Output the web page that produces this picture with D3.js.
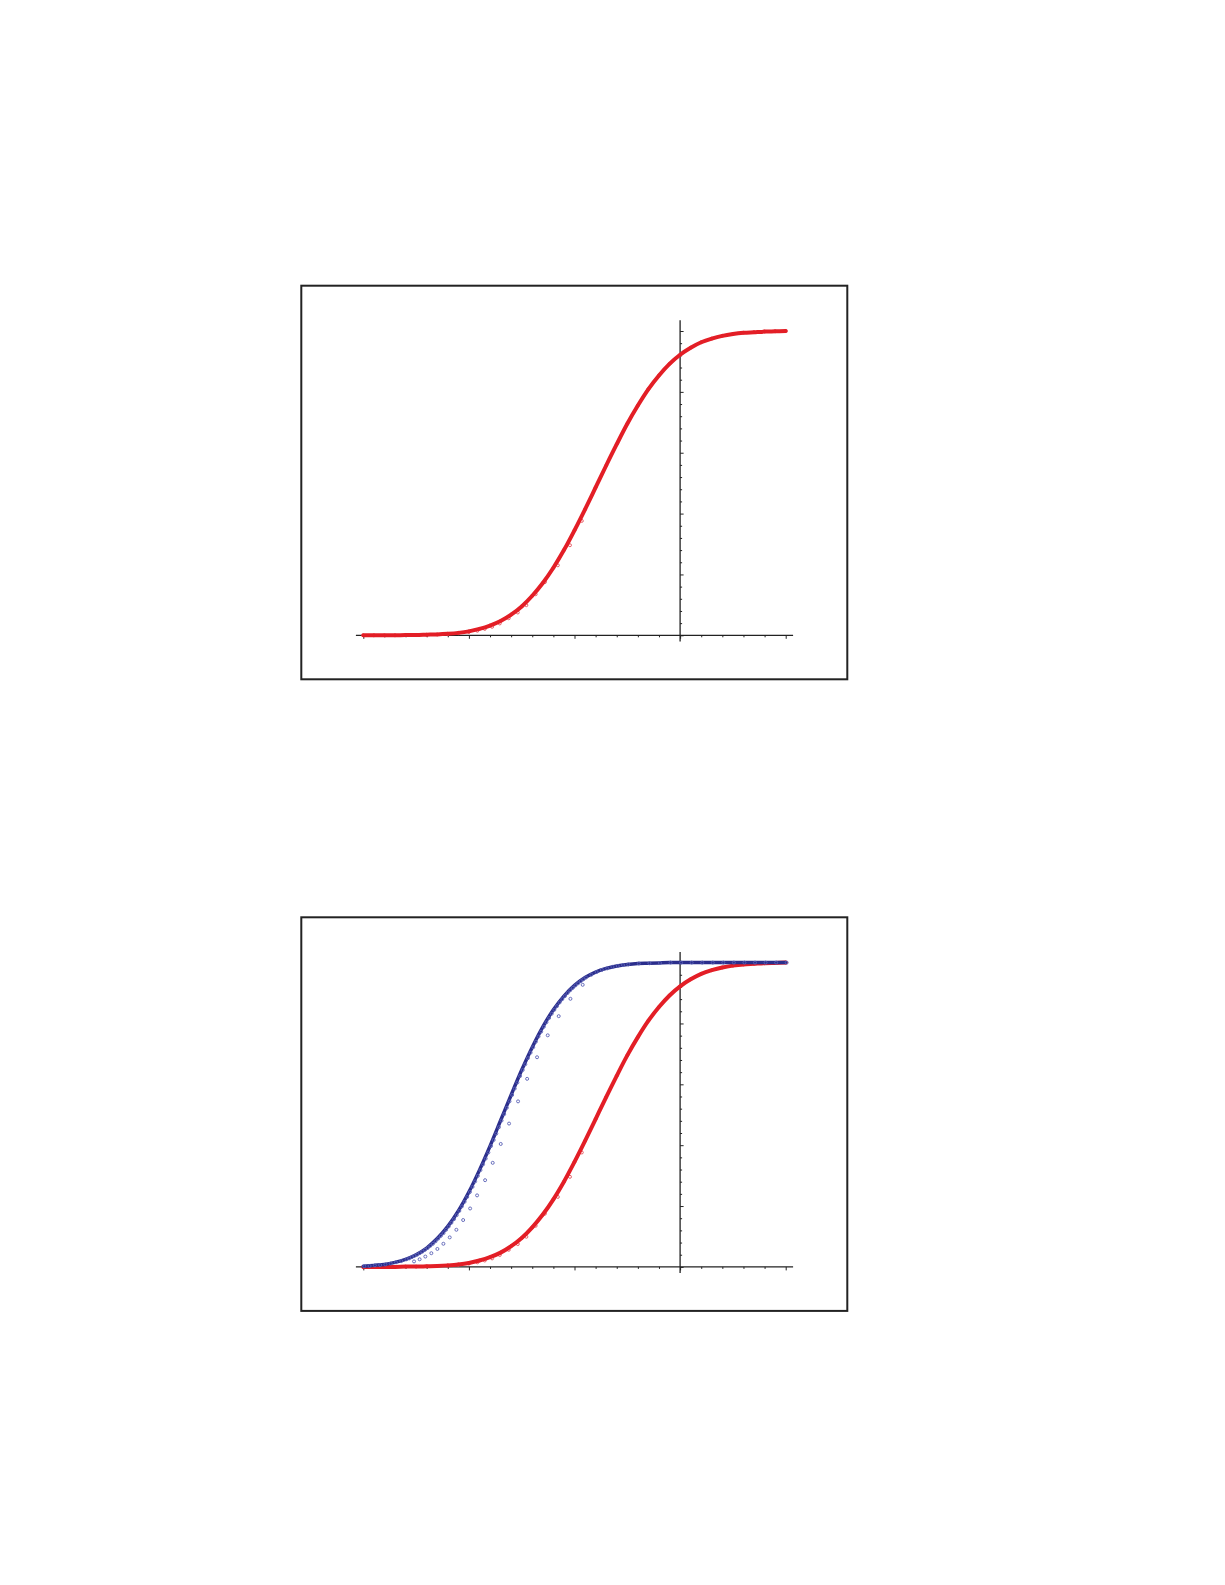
<!DOCTYPE html>
<html>
<head>
  <meta charset="utf-8">
  <title>Fitted curves</title>
  <script src="https://d3js.org/d3.v7.min.js"></script>
  <style>
    body { margin: 0; background: white; }
    svg { display: block; }
  </style>
</head>
<body>
<svg id="myCanvas" width="1225" height="1585"></svg>
<script>
  var fitX = [-3.0, -2.9, -2.8, -2.7, -2.6, -2.5, -2.4, -2.3, -2.2, -2.1,
              -2.0, -1.9, -1.8, -1.7, -1.6, -1.5, -1.4, -1.3, -1.2, -1.1,
              -1.0, -0.9, -0.8, -0.7, -0.6, -0.5, -0.4, -0.3, -0.2, -0.1,
               0.0, 0.1, 0.2, 0.3, 0.4, 0.5, 0.6, 0.7, 0.8, 0.9, 1.0];

  // red fitted curve (both panels)
  var redFit = [0.000, 0.000, 0.000, 0.000, 0.001, 0.001, 0.002, 0.003, 0.005, 0.008,
                0.013, 0.021, 0.032, 0.047, 0.068, 0.095, 0.130, 0.172, 0.222, 0.280,
                0.345, 0.414, 0.486, 0.558, 0.628, 0.695, 0.755, 0.809, 0.854, 0.892,
                0.922, 0.945, 0.963, 0.975, 0.984, 0.990, 0.994, 0.996, 0.998, 0.999, 1.000];

  // blue fitted curve (bottom panel)
  var blueFit = [0.002, 0.005, 0.008, 0.015, 0.025, 0.040, 0.062, 0.093, 0.133, 0.184,
                 0.246, 0.318, 0.397, 0.481, 0.565, 0.647, 0.722, 0.789, 0.845, 0.890,
                 0.925, 0.951, 0.969, 0.981, 0.989, 0.994, 0.997, 0.998, 0.999, 1.000,
                 1.000, 1.000, 1.000, 1.000, 1.000, 1.000, 1.000, 1.000, 1.000, 1.000, 1.000];

  // red observations that sit a little below the curve
  var redLagX = [-2.2, -2.1, -2.0, -1.92, -1.85, -1.78, -1.708, -1.623, -1.537, -1.456,
                 -1.368, -1.28, -1.158, -1.043, -0.931];
  var redLagY = [0.004, 0.007, 0.011, 0.015, 0.021, 0.028, 0.039, 0.056, 0.075, 0.099,
                 0.135, 0.175, 0.230, 0.296, 0.376];

  // dense blue observations along the curve
  var blueDotX = [-3.0, -2.95, -2.9, -2.85, -2.8, -2.75, -2.7, -2.65,
                  -2.6, -2.575, -2.55, -2.525, -2.5, -2.475, -2.45, -2.425,
                  -2.4, -2.375, -2.35, -2.325, -2.3, -2.275, -2.25, -2.225,
                  -2.2, -2.175, -2.15, -2.125, -2.1, -2.075, -2.05, -2.025,
                  -2.0, -1.975, -1.95, -1.925, -1.9, -1.875, -1.85, -1.825,
                  -1.8, -1.775, -1.75, -1.725, -1.7, -1.675, -1.65, -1.625,
                  -1.6, -1.575, -1.55, -1.525, -1.5, -1.475, -1.45, -1.425,
                  -1.4, -1.375, -1.35, -1.325, -1.3, -1.275, -1.25, -1.225,
                  -1.2, -1.175, -1.15, -1.125, -1.1, -1.075, -1.05, -1.025,
                  -1.0, -0.975, -0.95, -0.925, -0.9, -0.85, -0.8, -0.75,
                  -0.7, -0.65, -0.6, -0.55, -0.5, -0.4, -0.3, -0.2,
                  -0.1, 0.0, 0.1, 0.2, 0.3, 0.4, 0.5, 0.6, 0.7, 0.8, 0.9, 1.0];
  var blueDotY = [0.002, 0.003, 0.005, 0.006, 0.008, 0.011, 0.015, 0.019,
                  0.025, 0.028, 0.032, 0.036, 0.040, 0.045, 0.050, 0.056,
                  0.062, 0.069, 0.076, 0.084, 0.093, 0.102, 0.111, 0.122,
                  0.133, 0.145, 0.157, 0.170, 0.184, 0.199, 0.214, 0.230,
                  0.246, 0.263, 0.281, 0.299, 0.318, 0.337, 0.356, 0.376,
                  0.397, 0.417, 0.438, 0.459, 0.481, 0.502, 0.523, 0.544,
                  0.565, 0.586, 0.606, 0.627, 0.647, 0.666, 0.686, 0.704,
                  0.722, 0.740, 0.757, 0.773, 0.789, 0.804, 0.818, 0.832,
                  0.845, 0.857, 0.869, 0.880, 0.890, 0.900, 0.909, 0.917,
                  0.925, 0.932, 0.939, 0.945, 0.951, 0.960, 0.969, 0.976,
                  0.981, 0.986, 0.989, 0.992, 0.994, 0.997, 0.998, 0.999,
                  1.000, 1.000, 1.000, 1.000, 1.000, 1.000, 1.000, 1.000, 1.000, 1.000, 1.000, 1.000];

  // blue observations lagging to the right of the curve
  var blueLagX = [-2.529, -2.476, -2.422, -2.365, -2.308, -2.251, -2.191, -2.128, -2.064, -1.998,
                  -1.932, -1.856, -1.784, -1.708, -1.629, -1.544, -1.458, -1.364, -1.263, -1.159,
                  -1.048, -0.932];
  var blueLagY = [0.018, 0.025, 0.034, 0.045, 0.059, 0.076, 0.097, 0.122, 0.154, 0.192,
                  0.235, 0.285, 0.342, 0.404, 0.471, 0.544, 0.618, 0.689, 0.761, 0.824,
                  0.881, 0.927];

  var majorTicksX = [-3, -2, -1, 0, 1];
  var majorTicksY = [0, 0.2, 0.4, 0.6, 0.8, 1.0];

  var red = "#e31e26", redDot = "#e5505a";
  var blue = "#2b2e8c", blueDot = "#5a61b6";

  var svg = d3.select("#myCanvas");

  function zip(xs, ys) { return xs.map((v, i) => [v, ys[i]]); }

  function drawPanel(top, series) {
    var g = svg.append("g").attr("transform", `translate(0,${top})`);

    var x = d3.scaleLinear([-3, 1], [363.3, 785.7]);
    var y = d3.scaleLinear([0, 1], [349.6, 45.3]);

    g.append("rect")
      .attr("x", 301.3).attr("y", 0)
      .attr("width", 546).attr("height", 393.6)
      .attr("fill", "none").attr("stroke", "#222").attr("stroke-width", 2);

    // axis lines
    g.append("line")
      .attr("x1", x(-3.07)).attr("x2", x(1.07))
      .attr("y1", y(0)).attr("y2", y(0))
      .attr("stroke", "#222").attr("stroke-width", 1.3);
    g.append("line")
      .attr("x1", x(0)).attr("x2", x(0))
      .attr("y1", y(-0.02)).attr("y2", y(1.035))
      .attr("stroke", "#222").attr("stroke-width", 1.3);

    // ticks, no labels
    var minorX = d3.range(-3, 1.001, 0.2).filter(v => !majorTicksX.some(m => Math.abs(m - v) < 1e-6));
    var minorY = d3.range(0, 1.001, 0.04).filter(v => !majorTicksY.some(m => Math.abs(m - v) < 1e-6));

    [[majorTicksX, 3.5], [minorX, 2]].forEach(([vals, len]) => {
      g.append("g")
        .attr("transform", `translate(0,${y(0)})`)
        .call(d3.axisBottom(x).tickValues(vals).tickSize(len).tickSizeOuter(0).tickFormat(""))
        .call(a => a.select(".domain").remove())
        .selectAll("line").attr("stroke", "#222").attr("stroke-width", 1);
    });
    [[majorTicksY, 3.5], [minorY, 2]].forEach(([vals, len]) => {
      g.append("g")
        .attr("transform", `translate(${x(0)},0)`)
        .call(d3.axisRight(y).tickValues(vals).tickSize(len).tickSizeOuter(0).tickFormat(""))
        .call(a => a.select(".domain").remove())
        .selectAll("line").attr("stroke", "#222").attr("stroke-width", 1);
    });

    var line = d3.line().x(d => x(d[0])).y(d => y(d[1])).curve(d3.curveCatmullRom);

    series.forEach(s => {
      var dots = () => g.append("g").selectAll("circle")
        .data(s.dots)
        .join("circle")
        .attr("cx", d => x(d[0]) + s.dotShift).attr("cy", d => y(d[1]))
        .attr("r", 1.5)
        .attr("fill", "none").attr("stroke", s.dotColor).attr("stroke-width", 0.9);

      if (!s.dotsOnTop) dots();
      g.append("path")
        .datum(s.fit)
        .attr("d", line)
        .attr("fill", "none")
        .attr("stroke", s.color)
        .attr("stroke-width", s.width)
        .attr("stroke-linecap", "round");
      if (s.dotsOnTop) dots();
    });
  }

  var redSeries = {
    fit: zip(fitX, redFit),
    dots: zip(fitX, redFit).concat(zip(redLagX, redLagY)),
    color: red, dotColor: redDot, width: 4, dotShift: 0, dotsOnTop: false
  };
  var blueSeries = {
    fit: zip(fitX, blueFit),
    dots: zip(blueDotX, blueDotY).concat(zip(blueLagX, blueLagY)),
    color: blue, dotColor: blueDot, width: 3.5, dotShift: 1, dotsOnTop: true
  };

  drawPanel(285.7, [redSeries]);
  drawPanel(917.3, [redSeries, blueSeries]);
</script>
</body>
</html>
